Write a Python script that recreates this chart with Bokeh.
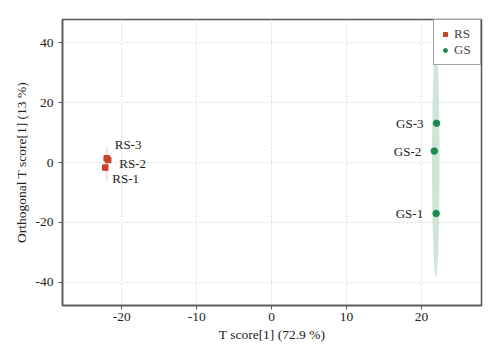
from bokeh.plotting import figure
from bokeh.models import ColumnDataSource, Legend, LegendItem, Range1d, FixedTicker, PrintfTickFormatter
from bokeh.embed import file_html
from bokeh.resources import INLINE

# data
rs_labels = ["RS-1", "RS-2", "RS-3"]
rs_t = [-22.2, -21.8, -22.0]
rs_o = [-1.7, 0.8, 1.4]
gs_labels = ["GS-1", "GS-2", "GS-3"]
gs_t = [21.95, 21.7, 22.0]
gs_o = [-17.0, 3.8, 13.1]
# confidence ellipses (center t, center o, width t, height o)
ell_groups = ["RS", "GS"]
ell_cx = [-22.0, 21.9]
ell_cy = [-0.5, 0.0]
ell_w = [0.45, 1.0]
ell_h = [13.0, 76.0]
x_ticks = [-20, -10, 0, 10, 20]
y_ticks = [-40, -20, 0, 20, 40]

RED = "#C9422C"
GREEN = "#1B8B4E"
SERIF = "Liberation Serif"

p = figure(frame_width=419, frame_height=286, output_backend="svg", toolbar_location=None,
           x_range=Range1d(-27.9, 28.0), y_range=Range1d(-47.7, 47.7),
           min_border_left=62, min_border_right=8, min_border_top=19, min_border_bottom=40)

p.ellipse(x=[ell_cx[1]], y=[ell_cy[1]], width=[ell_w[1]], height=[ell_h[1]],
          fill_color="#cfe5d8", fill_alpha=1.0, line_color=None)
p.ellipse(x=[ell_cx[0]], y=[ell_cy[0]], width=[ell_w[0]], height=[ell_h[0]],
          fill_color="#f8e3de", fill_alpha=1.0, line_color=None)

rs_src = ColumnDataSource(dict(x=rs_t, y=rs_o, lab=rs_labels,
                               dx=[7, 11, 8], dy=[11, 3, -14]))
gs_src = ColumnDataSource(dict(x=gs_t, y=gs_o, lab=gs_labels))

r_rs = p.scatter("x", "y", source=rs_src, marker="square", size=5.5, color=RED)
r_gs = p.scatter("x", "y", source=gs_src, marker="circle", size=6.5, color=GREEN)

p.text("x", "y", text="lab", source=rs_src, x_offset="dx", y_offset="dy",
       text_font=SERIF, text_font_size="13px", text_align="left",
       text_baseline="middle", text_color="#222222")
p.text("x", "y", text="lab", source=gs_src, x_offset=-13, y_offset=0,
       text_font=SERIF, text_font_size="13px", text_align="right",
       text_baseline="middle", text_color="#222222")

legend = Legend(items=[LegendItem(label="RS", renderers=[r_rs]),
                       LegendItem(label="GS", renderers=[r_gs])],
                location="top_right", margin=0, padding=6, spacing=0,
                label_text_font=SERIF, label_text_font_size="13px",
                label_height=12, label_standoff=4, glyph_width=10, glyph_height=12,
                border_line_color="#444444", border_line_width=1.2,
                background_fill_color="white", background_fill_alpha=1.0)
p.add_layout(legend)

p.xaxis.ticker = FixedTicker(ticks=x_ticks)
p.yaxis.ticker = FixedTicker(ticks=y_ticks)
p.xaxis.formatter = PrintfTickFormatter(format="%d")
p.yaxis.formatter = PrintfTickFormatter(format="%d")
p.xaxis.axis_label = "T score[1] (72.9 %)"
p.yaxis.axis_label = "Orthogonal T score[1] (13 %)"
for ax in (p.xaxis, p.yaxis):
    ax.axis_label_text_font = SERIF
    ax.axis_label_text_font_style = "normal"
    ax.axis_label_text_font_size = "13.5px"
    ax.axis_label_text_color = "#222222"
    ax.major_label_text_font = SERIF
    ax.major_label_text_font_size = "13.5px"
    ax.major_label_text_color = "#222222"
    ax.axis_line_color = "#555555"
    ax.axis_line_width = 1.5
    ax.major_tick_line_color = "#555555"
    ax.major_tick_in = 0
    ax.major_tick_out = 4
    ax.minor_tick_line_color = None
p.yaxis.axis_label_standoff = 4
p.xaxis.axis_label_standoff = 3
p.xaxis.major_label_standoff = 3

p.grid.grid_line_color = "#dadada"
p.grid.grid_line_dash = "2 2"
p.outline_line_color = "#555555"
p.outline_line_width = 1.5
p.background_fill_color = "white"
p.border_fill_color = "white"

open("out.html", "w").write(file_html(p, INLINE))
